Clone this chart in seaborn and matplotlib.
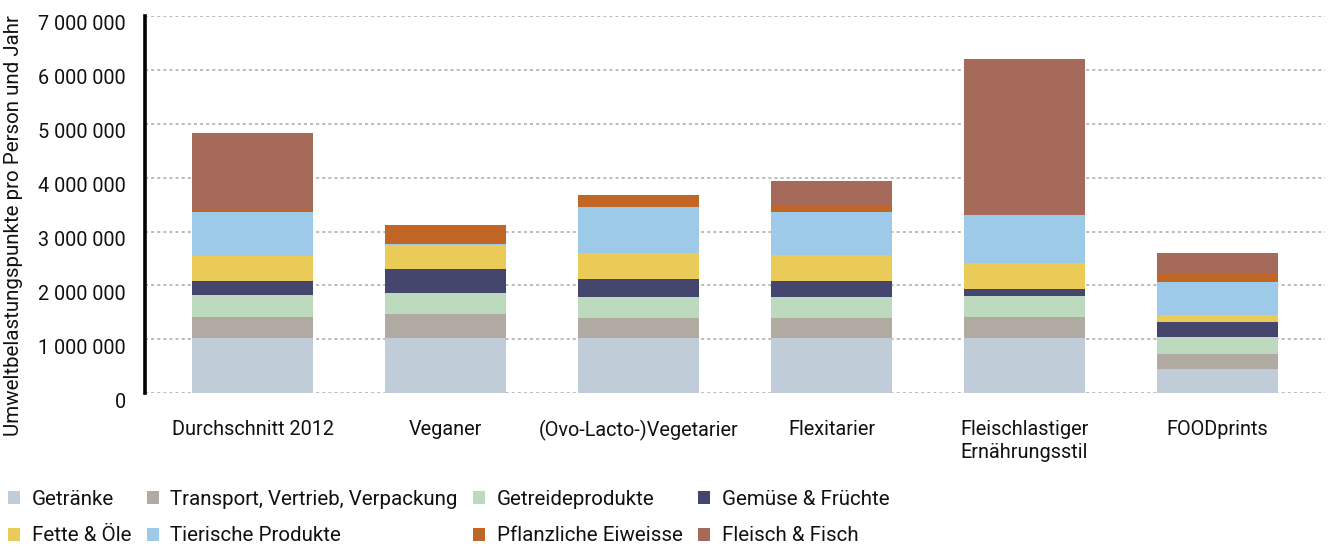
import numpy as np
import pandas as pd
import matplotlib
matplotlib.use("Agg")
import matplotlib.pyplot as plt
import matplotlib.transforms as mtransforms
import seaborn as sns
from matplotlib.patches import Patch

# ---------------- data ----------------
diets = ["Durchschnitt 2012", "Veganer", "(Ovo-Lacto-)Vegetarier", "Flexitarier",
         "Fleischlastiger\nErnährungsstil", "FOODprints"]

categories = ["Getränke", "Transport, Vertrieb, Verpackung", "Getreideprodukte",
              "Gemüse & Früchte", "Fette & Öle", "Tierische Produkte",
              "Pflanzliche Eiweisse", "Fleisch & Fisch"]

getraenke   = [1025000, 1025000, 1025000, 1025000, 1025000, 450000]
transport   = [390000, 445000, 370000, 370000, 390000, 280000]
getreide    = [405000, 390000, 390000, 390000, 390000, 315000]
gemuese     = [260000, 445000, 335000, 295000, 130000, 280000]
fette       = [470000, 445000, 480000, 480000, 480000, 130000]
tierische   = [810000, 15000, 850000, 795000, 890000, 610000]
pflanzliche = [35000, 335000, 205000, 130000, 0, 150000]
fleisch     = [1425000, 15000, 20000, 445000, 2890000, 390000]

ytick_values = [0, 1000000, 2000000, 3000000, 4000000, 5000000, 6000000, 7000000]
ytick_labels = ["0", "1 000 000", "2 000 000", "3 000 000", "4 000 000",
                "5 000 000", "6 000 000", "7 000 000"]

colors = ["#C0CCD8", "#B1AAA3", "#BEDABE", "#44466E",
          "#EACB57", "#9ECAE9", "#C26625", "#A66A5B"]

# ---------------- build table ----------------
series = [getraenke, transport, getreide, gemuese, fette, tierische, pflanzliche, fleisch]
df = pd.DataFrame({cat: vals for cat, vals in zip(categories, series)}, index=diets)
cum = df.cumsum(axis=1)

# ---------------- figure ----------------
sns.set_theme(style="white")
plt.rcParams["font.family"] = ["Roboto", "DejaVu Sans"]
FS = 14.3
FS_LEG = 14.8
TXT = "#111111"

fig = plt.figure(figsize=(13.33, 5.46), dpi=100)
ax = fig.add_axes([0.1088, 0.2797, 0.994 - 0.1088, 0.9707 - 0.2797])

# draw stacked bars as overlapping cumulative bars (top layer first)
for cat, col in reversed(list(zip(categories, colors))):
    sns.barplot(x=list(cum.index), y=cum[cat].values, color=col, saturation=1,
                width=0.627, linewidth=0, ax=ax, zorder=2)

ax.set_xlim(-0.557, 5.557)
ax.set_ylim(0, 7000000)
ax.set_yticks(ytick_values)
ax.set_yticklabels(ytick_labels, fontsize=FS, color=TXT)
ax.set_xticks(range(len(diets)))
ax.set_xticklabels(diets, fontsize=FS, color=TXT, linespacing=1.3)

ax.yaxis.grid(True, linestyle=(0, (2, 2)), color="#aaaaaa", linewidth=1.1, zorder=0)
ax.xaxis.grid(False)
ax.set_axisbelow(True)

for s in ["top", "right", "bottom"]:
    ax.spines[s].set_visible(False)
ax.spines["left"].set_linewidth(2.6)
ax.spines["left"].set_color("black")

ax.tick_params(axis="x", length=14, width=2.6, color="black", pad=5, direction="out")
ax.tick_params(axis="y", length=0, pad=14)
ax.set_xlabel("")
ax.set_ylabel("")

# y tick labels sit slightly below their gridline (apply after tick_params)
shift = mtransforms.ScaledTranslation(0, -7 / 100, fig.dpi_scale_trans)
for lab in ax.get_yticklabels():
    lab.set_transform(lab.get_transform() + shift)

fig.text(14 / 1333, 1 - 226 / 546, "Umweltbelastungspunkte pro Person und Jahr",
         rotation=90, ha="center", va="center", fontsize=FS_LEG, color=TXT)

# legend (column-major order to form 2 rows x 4 columns)
handles = [Patch(facecolor=c, edgecolor="none") for c in colors]
order = [0, 4, 1, 5, 2, 6, 3, 7]
leg = fig.legend([handles[i] for i in order], [categories[i] for i in order],
                 ncol=4, loc="upper left", bbox_to_anchor=(8 / 1333, 1 - 490 / 546),
                 frameon=False, fontsize=FS_LEG, handlelength=0.6, handleheight=0.6,
                 handletextpad=0.55, columnspacing=0.75, labelspacing=0.85,
                 borderaxespad=0, borderpad=0)
for t in leg.get_texts():
    t.set_color(TXT)

fig.savefig("out.png", dpi=100)
